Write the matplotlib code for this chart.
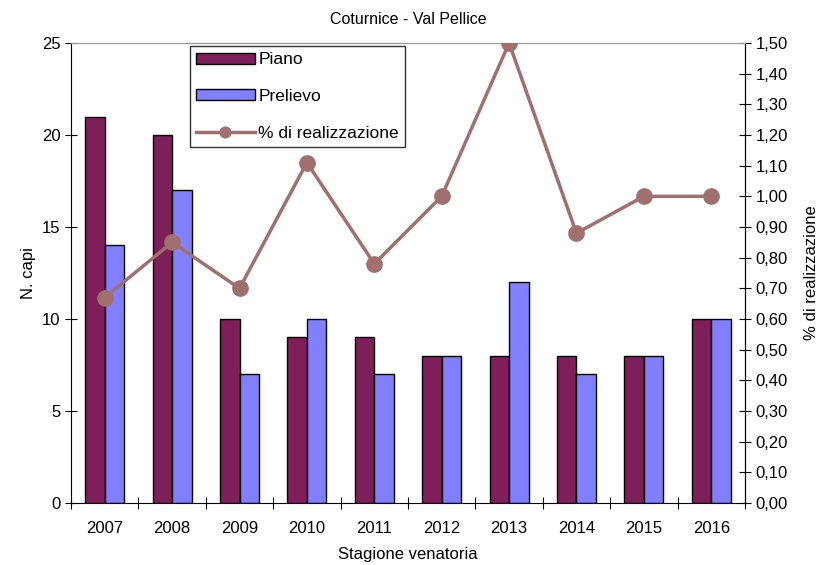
import matplotlib.pyplot as plt
import numpy as np
from matplotlib.ticker import FuncFormatter

plt.rcParams['font.family'] = ['Liberation Sans', 'DejaVu Sans']

stagioni = ["2007", "2008", "2009", "2010", "2011", "2012", "2013", "2014", "2015", "2016"]
piano = [21, 20, 10, 9, 9, 8, 8, 8, 8, 10]
prelievo = [14, 17, 7, 10, 7, 8, 12, 7, 8, 10]
realizzazione = [0.67, 0.85, 0.70, 1.11, 0.78, 1.00, 1.50, 0.88, 1.00, 1.00]

fig = plt.figure(figsize=(8.2, 5.65), dpi=100)
ax = fig.add_axes([0.0866, 0.1097, 0.8219, 0.8142])
ax2 = ax.twinx()

x = np.arange(len(stagioni))
w = 0.29
ax.bar(x - w / 2, piano, w, color="#7F1F5A", edgecolor="black", linewidth=1, label="Piano", zorder=2)
ax.bar(x + w / 2, prelievo, w, color="#8080FF", edgecolor="black", linewidth=1, label="Prelievo", zorder=2)
ax2.plot(x, realizzazione, color="#A0706E", linewidth=2.5, marker="o", markersize=11,
         label="% di realizzazione", zorder=3)

ax.set_xlim(-0.5, len(stagioni) - 0.5)
ax.set_ylim(0, 25)
ax.set_yticks(range(0, 26, 5))
ax2.set_ylim(0, 1.5)
ax2.set_yticks(np.arange(0, 1.51, 0.1))
ax2.yaxis.set_major_formatter(FuncFormatter(lambda v, p: f"{v:.2f}".replace(".", ",")))

ax.set_xticks(np.arange(len(stagioni) + 1) - 0.5)
ax.set_xticklabels([])
ax.set_xticks(x, minor=True)
ax.set_xticklabels(stagioni, minor=True)
ax.tick_params(axis="x", which="minor", length=0, pad=13, labelsize=12)
ax.tick_params(axis="x", which="major", direction="inout", length=8)
ax.tick_params(axis="y", direction="inout", length=8, labelsize=12)
ax2.tick_params(axis="y", direction="inout", length=8, labelsize=12)

for a in (ax, ax2):
    a.spines["top"].set_color("#999999")
ax2.spines["left"].set_visible(False)
ax2.spines["bottom"].set_visible(False)

ax.set_xlabel("Stagione venatoria", fontsize=12, labelpad=8)
ax.set_ylabel("N. capi", fontsize=12)
ax2.set_ylabel("% di realizzazione", fontsize=12, labelpad=12)
ax.set_title("Coturnice - Val Pellice", fontsize=11.5, pad=14)

h1, l1 = ax.get_legend_handles_labels()
h2, l2 = ax2.get_legend_handles_labels()
leg = ax2.legend(h1 + h2, l1 + l2, loc="upper left", bbox_to_anchor=(0.176, 0.993),
                 fontsize=12.5, frameon=True, fancybox=False, labelspacing=1.25,
                 handlelength=3.4, handleheight=0.6, handletextpad=0.2, borderpad=0.35,
                 borderaxespad=0, markerscale=0.7)
leg.get_frame().set_edgecolor("black")
leg.get_frame().set_linewidth(1)

fig.savefig("out.png", dpi=100)
